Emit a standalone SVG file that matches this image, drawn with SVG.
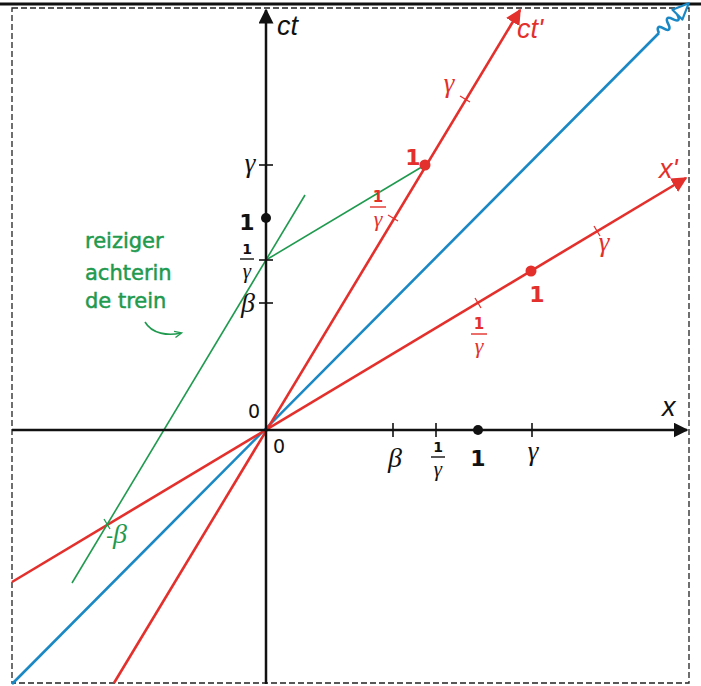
<svg xmlns="http://www.w3.org/2000/svg" width="701" height="686" viewBox="0 0 701 686">
<defs>
<style>
.ax{stroke:#111;stroke-width:2.5;fill:none}
.tk{stroke:#111;stroke-width:1.6}
.rd{stroke:#e3302c;stroke-width:2.6;fill:none}
.rt{stroke:#e3302c;stroke-width:1.3}
.bl{stroke:#1a88c4;stroke-width:2.6;fill:none}
.gr{stroke:#1f9a4f;stroke-width:1.6;fill:none}
.math{font-family:"Liberation Serif","DejaVu Serif",serif;font-style:italic}
.num{font-family:"DejaVu Sans","Liberation Sans",sans-serif;font-weight:bold}
.zero{font-family:"DejaVu Sans","Liberation Sans",sans-serif}
.txt{font-family:"DejaVu Sans","Liberation Sans",sans-serif;stroke:#1f9a4f;stroke-width:0.5}
.lab{font-family:"Liberation Sans","DejaVu Sans",sans-serif;font-style:italic}
.k{fill:#111}
.r{fill:#e3302c}
.g{fill:#1f9a4f}
</style>
<marker id="ak" viewBox="0 0 10 10" refX="9" refY="5" markerWidth="6" markerHeight="6" markerUnits="strokeWidth" orient="auto"><path d="M0,0 L10,5 L0,10 z" fill="#111"/></marker>
<marker id="ar" viewBox="0 0 10 10" refX="9" refY="5" markerWidth="6" markerHeight="6" markerUnits="strokeWidth" orient="auto"><path d="M0,0 L10,5 L0,10 z" fill="#e3302c"/></marker>
<marker id="ag" viewBox="0 0 10 10" refX="8" refY="5" markerWidth="5" markerHeight="5" orient="auto"><path d="M0,1 L9,5 L0,9" fill="none" stroke="#1f9a4f" stroke-width="1.5"/></marker>
</defs>
<rect width="701" height="686" fill="#fff"/>
<line x1="0" y1="4" x2="701" y2="4" stroke="#111" stroke-width="3"/>
<rect x="12" y="8" width="677" height="675" fill="none" stroke="#222" stroke-width="1.3" stroke-dasharray="6,3"/>

<g id="connectors">
<line id="blue-light" class="bl" x1="12" y1="684" x2="659" y2="33"/>
<g transform="translate(659,33) rotate(-45)">
<path class="bl" d="M0,0 C2,-6 5,-6 6.5,0 S11,6 13,0 S17.5,-6 19.5,0 S24,6 26,0" stroke-width="2.2"/>
<path d="M26,-7 L42,0 L26,7 z" fill="#fff" stroke="#1a88c4" stroke-width="2.2" stroke-linejoin="round"/>
</g>
<line id="ct-prime" class="rd" x1="114" y1="683" x2="520" y2="10" marker-end="url(#ar)"/>
<line id="x-prime" class="rd" x1="12" y1="582" x2="686" y2="178" marker-end="url(#ar)"/>
<line id="green-worldline" class="gr" x1="72" y1="583" x2="305" y2="195"/>
<line id="green-simul" class="gr" x1="266" y1="260" x2="425" y2="165"/>
<line id="x-axis" class="ax" x1="12" y1="430" x2="687" y2="430" marker-end="url(#ak)"/>
<line id="ct-axis" class="ax" x1="266" y1="684" x2="266" y2="10" marker-end="url(#ak)"/>
<path class="gr" d="M145,322 C152,334 168,336 181,333" stroke-width="1.4" marker-end="url(#ag)"/>
</g>

<g id="ticks">
<line class="tk" x1="393" y1="423" x2="393" y2="437"/>
<line class="tk" x1="436" y1="423" x2="436" y2="437"/>
<line class="tk" x1="532" y1="423" x2="532" y2="437"/>
<line class="tk" x1="259" y1="165" x2="273" y2="165"/>
<line class="tk" x1="259" y1="260" x2="273" y2="260"/>
<line class="tk" x1="259" y1="303" x2="273" y2="303"/>
<line class="rt" x1="460" y1="96" x2="470" y2="102"/>
<line class="rt" x1="388" y1="215" x2="398" y2="221"/>
<line class="rt" x1="475" y1="298" x2="481" y2="308"/>
<line class="rt" x1="594" y1="226" x2="600" y2="236"/>
<line stroke="#1f9a4f" stroke-width="1.3" x1="104" y1="519" x2="110" y2="529"/>
</g>

<g id="dots">
<circle cx="266" cy="218" r="5" class="k"/>
<circle cx="478" cy="430" r="5" class="k"/>
<circle cx="425" cy="165" r="5.5" class="r"/>
<circle cx="531" cy="271" r="5.5" class="r"/>
</g>

<g id="axis-labels">
<text x="277" y="35" class="lab k" font-size="27">ct</text>
<text x="662" y="416" class="lab k" font-size="27">x</text>
<text x="517" y="38" class="lab r" font-size="27">ct'</text>
<text x="659" y="178" class="lab r" font-size="27">x'</text>
</g>

<g id="ct-labels">
<text x="250" y="172" class="math k" font-size="27" text-anchor="middle">γ</text>
<text x="247" y="230" class="num k" font-size="22" text-anchor="middle">1</text>
<text x="247" y="254" class="num k" font-size="14" text-anchor="middle">1</text>
<line x1="240" y1="259" x2="254" y2="259" stroke="#111" stroke-width="1.4"/>
<text x="247" y="278" class="math k" font-size="21" text-anchor="middle">γ</text>
<text x="248" y="312" class="math k" font-size="28" text-anchor="middle">β</text>
<text x="254" y="418" class="zero k" font-size="19" text-anchor="middle">0</text>
<text x="279" y="453" class="zero k" font-size="19" text-anchor="middle">0</text>
</g>

<g id="x-labels">
<text x="395" y="467" class="math k" font-size="28" text-anchor="middle">β</text>
<text x="438" y="452" class="num k" font-size="14" text-anchor="middle">1</text>
<line x1="431" y1="457" x2="445" y2="457" stroke="#111" stroke-width="1.4"/>
<text x="438" y="476" class="math k" font-size="21" text-anchor="middle">γ</text>
<text x="478" y="466" class="num k" font-size="22" text-anchor="middle">1</text>
<text x="533" y="460" class="math k" font-size="27" text-anchor="middle">γ</text>
</g>

<g id="ctprime-labels">
<text x="449" y="92" class="math r" font-size="27" text-anchor="middle">γ</text>
<text x="413" y="165" class="num r" font-size="22" text-anchor="middle">1</text>
<text x="378" y="202" class="num r" font-size="15" text-anchor="middle">1</text>
<line x1="370" y1="207" x2="386" y2="207" stroke="#e3302c" stroke-width="1.4"/>
<text x="378" y="226" class="math r" font-size="22" text-anchor="middle">γ</text>
</g>

<g id="xprime-labels">
<text x="604" y="251" class="math r" font-size="27" text-anchor="middle">γ</text>
<text x="537" y="302" class="num r" font-size="22" text-anchor="middle">1</text>
<text x="479" y="329" class="num r" font-size="15" text-anchor="middle">1</text>
<line x1="471" y1="334" x2="487" y2="334" stroke="#e3302c" stroke-width="1.4"/>
<text x="479" y="353" class="math r" font-size="22" text-anchor="middle">γ</text>
</g>

<g id="green-labels">
<text x="106" y="543" class="zero g" font-size="20">-</text>
<text x="113" y="543" class="math g" font-size="28">β</text>
<text x="85" y="248" class="txt g" font-size="21">reiziger</text>
<text x="85" y="280" class="txt g" font-size="21">achterin</text>
<text x="85" y="308" class="txt g" font-size="21">de trein</text>
</g>
</svg>
